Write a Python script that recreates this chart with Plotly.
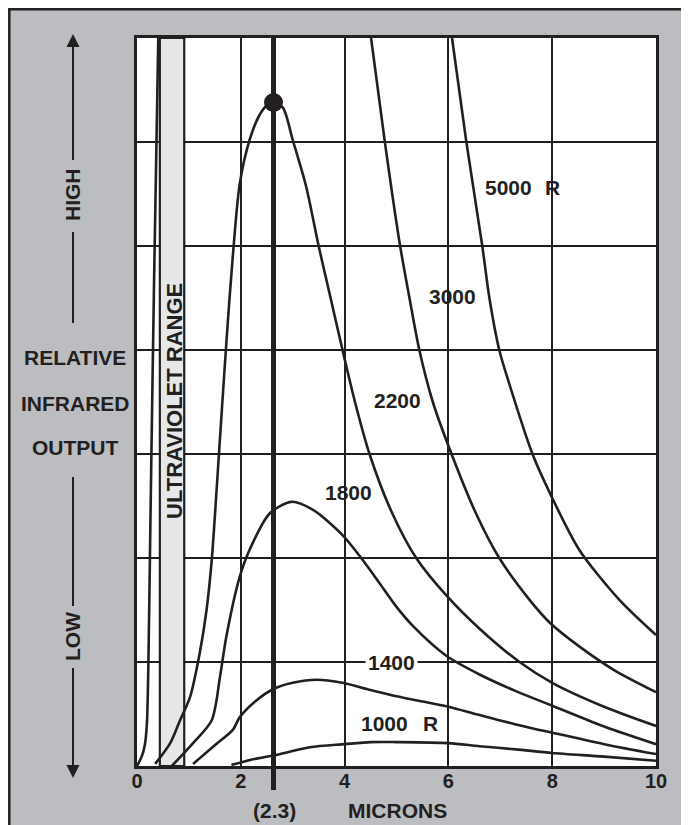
import plotly.graph_objects as go

# ---------------- data ----------------
x_ticks = [0, 2, 4, 6, 8, 10]
x_tick_labels = ["0", "2", "4", "6", "8", "10"]

uv_range = [0.44, 0.91]
peak_wavelength = 2.63
peak_value = 6.38

# steep rising branch near 0 (shared by the 3000 / 5000 curves)
rise_x = [0.0, 0.09, 0.15, 0.19, 0.22, 0.26, 0.33, 0.41]
rise_y = [0.0, 0.09, 0.20, 0.40, 1.00, 2.40, 4.70, 7.00]

c5000_x = [6.07, 6.34, 6.65, 6.79, 6.98, 7.17, 7.62, 7.96, 8.52, 9.29, 10.0]
c5000_y = [7.00, 6.02, 5.01, 4.50, 4.00, 3.68, 3.00, 2.62, 2.08, 1.60, 1.26]

c3000_x = [4.51, 4.77, 5.06, 5.25, 5.44, 5.70, 6.00, 6.53, 6.98, 7.56, 7.96, 8.52, 9.20, 10.0]
c3000_y = [7.00, 6.02, 5.03, 4.50, 4.00, 3.50, 3.08, 2.43, 2.00, 1.60, 1.375, 1.15, 0.92, 0.71]

c2200_x = [0.35, 0.64, 0.83, 1.02, 1.21, 1.34, 1.44, 1.50, 1.60, 1.73, 1.83, 1.98, 2.17, 2.35, 2.50, 2.63,
           2.81, 3.00, 3.26, 3.50, 3.73, 3.96, 4.20, 4.48, 4.90, 5.38, 5.96, 6.60, 7.37, 8.00, 9.00, 10.0]
c2200_y = [0.02, 0.22, 0.44, 0.66, 1.09, 1.50, 1.98, 2.40, 3.16, 4.13, 4.80, 5.60, 6.02, 6.25, 6.35, 6.38,
           6.33, 6.02, 5.57, 5.00, 4.50, 4.00, 3.50, 3.00, 2.45, 2.00, 1.64, 1.32, 1.00, 0.80, 0.57, 0.385]

c1800_x = [0.67, 1.08, 1.44, 1.60, 1.72, 1.98, 2.17, 2.56, 2.98, 3.40, 3.96, 4.32, 4.67, 5.00, 5.31, 5.96,
           6.60, 7.30, 8.00, 9.00, 10.0]
c1800_y = [0.00, 0.22, 0.44, 0.86, 1.24, 1.82, 2.08, 2.43, 2.54, 2.46, 2.22, 2.00, 1.76, 1.53, 1.35, 1.06,
           0.88, 0.72, 0.58, 0.38, 0.21]

c1400_x = [1.08, 1.50, 1.85, 1.98, 2.30, 2.63, 3.00, 3.46, 3.96, 4.50, 5.00, 5.50, 6.00, 6.60, 7.30, 8.00, 9.00, 10.0]
c1400_y = [0.02, 0.20, 0.35, 0.47, 0.63, 0.74, 0.80, 0.83, 0.80, 0.73, 0.67, 0.62, 0.57, 0.49, 0.40, 0.32, 0.21, 0.115]

c1000_x = [1.82, 2.20, 2.63, 3.33, 4.00, 4.50, 5.00, 6.00, 6.60, 7.30, 8.00, 9.00, 10.0]
c1000_y = [0.01, 0.06, 0.10, 0.18, 0.21, 0.23, 0.23, 0.22, 0.19, 0.16, 0.125, 0.09, 0.05]

# ---------------- style ----------------
INK = "#231f20"
GRAY = "#bcbdc0"
BAND = "#e6e7e8"
FONT = "Liberation Sans, Arial, sans-serif"
OFF = 8                      # page body margin
W, H = 689 - OFF, 825 - OFF  # figure size
PL, PR, PT, PB = 137, 656, 38, 766   # plot area in page pixels
L, R, T, B = PL - OFF, (OFF + W) - PR, PT - OFF, (OFF + H) - PB


def px(x):
    return (x - PL) / (PR - PL)


def py(y):
    return (PB - y) / (PB - PT)


fig = go.Figure()

line_style = dict(color=INK, width=2.6, shape="spline", smoothing=0.8)
for xs, ys in [(rise_x, rise_y), (c5000_x, c5000_y), (c3000_x, c3000_y), (c2200_x, c2200_y),
               (c1800_x, c1800_y), (c1400_x, c1400_y), (c1000_x, c1000_y)]:
    fig.add_trace(go.Scatter(x=xs, y=ys, mode="lines", line=line_style, hoverinfo="skip", showlegend=False))

fig.add_trace(go.Scatter(x=[peak_wavelength], y=[peak_value], mode="markers",
                         marker=dict(size=19, color=INK), showlegend=False, hoverinfo="skip"))

shapes = []
# ultraviolet band
shapes.append(dict(type="rect", xref="x", yref="y", x0=uv_range[0], x1=uv_range[1], y0=0, y1=7,
                   fillcolor=BAND, line=dict(color=INK, width=2.2), layer="between"))
# thick peak line
shapes.append(dict(type="line", xref="x", yref="paper", x0=peak_wavelength, x1=peak_wavelength,
                   y0=py(790), y1=1, line=dict(color=INK, width=5), layer="above"))
# outer frame (left & top edges visible)
shapes.append(dict(type="rect", xref="paper", yref="paper", x0=px(9.3), x1=px(720), y0=py(9.3), y1=py(860),
                   line=dict(color=INK, width=2.5), fillcolor="rgba(0,0,0,0)", layer="below"))
# arrow shafts with gaps for text
for y0, y1 in [(160, 45), (232, 323), (477, 606), (668, 770)]:
    shapes.append(dict(type="line", xref="paper", yref="paper", x0=px(73), x1=px(73), y0=py(y0), y1=py(y1),
                       line=dict(color=INK, width=2)))

ann = []
fnt = dict(family=FONT, size=21, color=INK, weight="bold")


def text(x, y, s, angle=0, size=21, bg=None):
    d = dict(xref="paper", yref="paper", x=px(x), y=py(y), text=s, showarrow=False,
             font=dict(fnt, size=size), textangle=angle, xanchor="center", yanchor="middle")
    if bg:
        d["bgcolor"] = bg
        d["borderpad"] = 2
    ann.append(d)


text(72, 195, "HIGH", angle=-90)
text(72, 637, "LOW", angle=-90)
text(75, 357, "RELATIVE")
text(75, 403, "INFRARED")
text(75, 447, "OUTPUT")
text(174, 401, "ULTRAVIOLET RANGE", angle=-90, size=22)
text(508, 187, "5000")
text(552, 187, "R")
text(452, 297, "3000")
text(397, 400, "2200")
text(348, 492, "1800")
text(391, 662, "1400", bg="white")
text(384, 723, "1000")
text(430, 723, "R")
text(274, 810, "(2.3)")
text(397, 810, "MICRONS")

# arrowheads
ann.append(dict(xref="paper", yref="paper", x=px(73), y=py(34), ax=0, ay=26, axref="pixel",
                ayref="pixel", text="", showarrow=True, arrowhead=2, arrowsize=1.3, arrowwidth=2,
                arrowcolor=INK))
ann.append(dict(xref="paper", yref="paper", x=px(73), y=py(778), ax=0, ay=-26, axref="pixel",
                ayref="pixel", text="", showarrow=True, arrowhead=2, arrowsize=1.3, arrowwidth=2,
                arrowcolor=INK))

fig.update_layout(
    width=W, height=H,
    margin=dict(l=L, r=R, t=T, b=B),
    paper_bgcolor=GRAY, plot_bgcolor="white",
    shapes=shapes, annotations=ann, showlegend=False,
    xaxis=dict(range=[0, 10], tickvals=x_ticks, ticktext=x_tick_labels, showgrid=True, gridcolor=INK,
               gridwidth=1.6, showline=True, linecolor=INK, linewidth=3, mirror=True, zeroline=False,
               ticks="", tickfont=dict(fnt, size=20), ticklabelstandoff=-5, fixedrange=True),
    yaxis=dict(range=[0, 7], dtick=1, showgrid=True, gridcolor=INK, gridwidth=1.6, showline=True,
               linecolor=INK, linewidth=3, mirror=True, zeroline=False, showticklabels=False, ticks="",
               fixedrange=True),
)

fig.write_html("out.html", config=dict(displayModeBar=False))
